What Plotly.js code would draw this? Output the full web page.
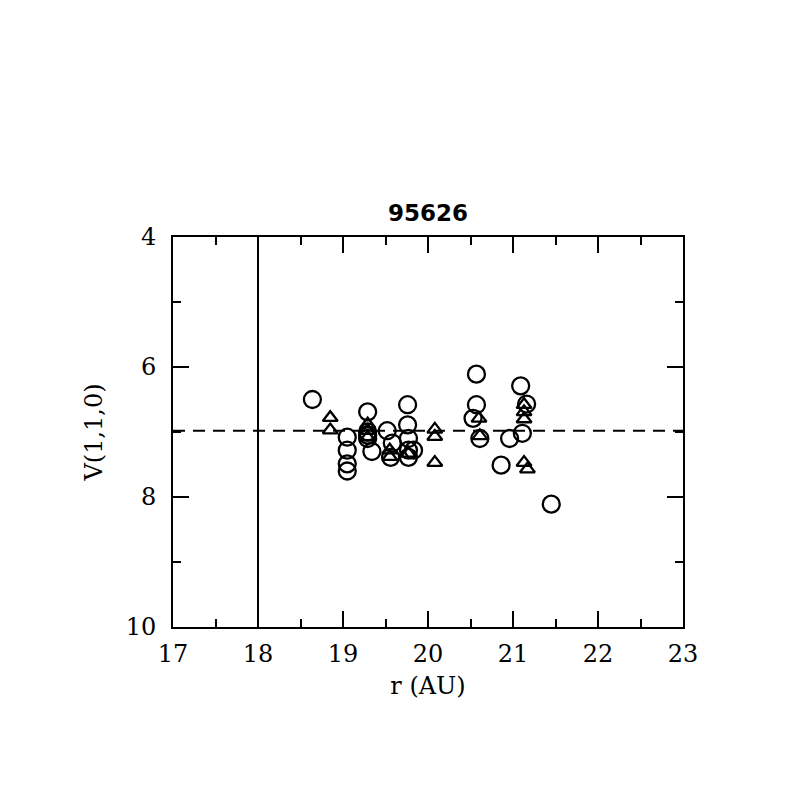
<!DOCTYPE html>
<html>
<head>
<meta charset="utf-8">
<script src="https://cdn.plot.ly/plotly-3.0.1.min.js"></script>
<style>html,body{margin:0;padding:0;background:#fff;}#plot{width:797px;height:797px;}</style>
</head>
<body>
<div id="plot"></div>
<script>
// Circle observations
const circleR = [18.64, 19.05, 19.05, 19.05, 19.05, 19.29, 19.29, 19.29, 19.29, 19.34,
                 19.52, 19.58, 19.56, 19.76, 19.76, 19.77, 19.77, 19.77, 19.83,
                 20.57, 20.57, 20.53, 20.61, 20.96, 20.86, 21.09, 21.16, 21.11, 21.45];
const circleV = [6.50, 7.08, 7.28, 7.49, 7.60, 6.69, 7.00, 7.05, 7.10, 7.30,
                 6.98, 7.17, 7.39, 6.58, 6.89, 7.10, 7.28, 7.39, 7.28,
                 6.11, 6.58, 6.79, 7.10, 7.10, 7.51, 6.29, 6.57, 7.02, 8.11];
// Triangle observations
const triR = [18.85, 18.85, 19.29, 19.29, 19.29, 19.55, 19.55, 19.77,
              20.08, 20.08, 20.08, 20.60, 20.61, 21.13, 21.13, 21.13, 21.13, 21.17];
const triV = [6.78, 6.97, 6.88, 6.98, 7.08, 7.28, 7.38, 7.33,
              6.96, 7.07, 7.47, 6.79, 7.06, 6.58, 6.69, 6.80, 7.47, 7.57];
// Reference lines
const meanV = 6.98;
const markerR = 18;
const xRange = [17, 23];
const yRange = [10, 4];
const xTicks = [17, 18, 19, 20, 21, 22, 23];
const yTicks = [4, 6, 8, 10];

const fontFam = "DejaVu Serif, Liberation Serif, serif";

const traces = [
  {x: circleR, y: circleV, mode: 'markers', type: 'scatter', cliponaxis: false,
   marker: {symbol: 'circle-open', size: 17, color: '#000', line: {width: 2.3, color: '#000'}}},
  {x: triR, y: triV, mode: 'markers', type: 'scatter', cliponaxis: false,
   marker: {symbol: 'triangle-up-open', size: 13, color: '#000', line: {width: 2.3, color: '#000'}}},
  {x: xRange, y: [meanV, meanV], mode: 'lines', type: 'scatter',
   line: {color: '#000', width: 2, dash: '12px,8px'}},
  {x: [markerR, markerR], y: [yRange[0], yRange[1]], mode: 'lines', type: 'scatter',
   line: {color: '#000', width: 2}}
];

const axBase = {
  showgrid: false, zeroline: false, showline: true, linecolor: '#000', linewidth: 2,
  mirror: 'ticks', ticks: 'inside', ticklen: 16, tickwidth: 2, tickcolor: '#000',
  tickfont: {family: fontFam, size: 24, color: '#000'}
};

const layout = {
  width: 797, height: 797,
  margin: {l: 173, r: 114, t: 237, b: 170},
  paper_bgcolor: '#fff', plot_bgcolor: '#fff',
  showlegend: false,
  title: {text: '95626', x: 0.537, xanchor: 'center', y: 0.733, yanchor: 'middle',
          font: {family: 'DejaVu Sans, Liberation Sans, sans-serif', size: 23, weight: 'bold', color: '#000'}},
  xaxis: Object.assign({}, axBase, {
    range: xRange, tickvals: xTicks, ticktext: xTicks.map(String), ticklabelstandoff: 4,
    minor: {dtick: 0.5, tick0: 17, ticks: 'inside', ticklen: 8, tickwidth: 2, tickcolor: '#000'},
    title: {text: 'r (AU)', font: {family: fontFam, size: 24, color: '#000'}, standoff: 10}
  }),
  yaxis: Object.assign({}, axBase, {
    range: yRange, tickvals: yTicks, ticktext: yTicks.map(String), ticklabelstandoff: 10,
    minor: {dtick: 1, tick0: 4, ticks: 'inside', ticklen: 8, tickwidth: 2, tickcolor: '#000'},
    title: {text: 'V(1,1,0)', font: {family: fontFam, size: 24, color: '#000'}, standoff: 16}
  })
};

Plotly.newPlot('plot', traces, layout, {staticPlot: true, displayModeBar: false});
</script>
</body>
</html>
